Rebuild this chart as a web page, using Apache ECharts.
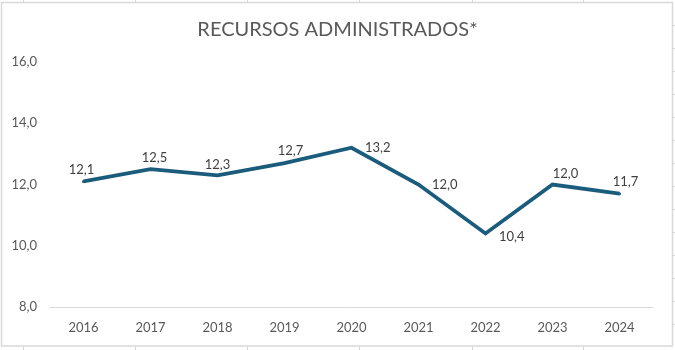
<!DOCTYPE html>
<html>
<head>
<meta charset="utf-8">
<script src="https://cdn.jsdelivr.net/npm/echarts@6/dist/echarts.min.js"></script>
<style>html,body{margin:0;padding:0;background:#fff}#c{width:675px;height:350px}</style>
</head>
<body>
<div id="c"></div>
<script>
const title = 'RECURSOS ADMINISTRADOS*';
const years = ['2016','2017','2018','2019','2020','2021','2022','2023','2024'];
const values = [12.1, 12.5, 12.3, 12.7, 13.2, 12.0, 10.4, 12.0, 11.7];
const yTicks = [8, 10, 12, 14, 16];

// label placement per point (style only)
const labelPos = ['top','top','top','top','right','right','right','top','top'];
const labelOff = [[-2,-1],[4,0],[0,0],[6,-1],[9,0],[9,0],[9,3],[13,0],[6,-1]];

const fmt = v => v.toFixed(1).replace('.', ',');

const chart = echarts.init(document.getElementById('c'), null, {renderer:'canvas'});

// decorative spreadsheet cell lines outside the chart frame
const deco = [];
[23,135,247,359,472,583].forEach(x => {
  deco.push({type:'line', shape:{x1:x+0.5,y1:0,x2:x+0.5,y2:2}, style:{stroke:'#d4d4d4',lineWidth:1}, silent:true});
  deco.push({type:'line', shape:{x1:x+0.5,y1:347,x2:x+0.5,y2:350}, style:{stroke:'#d4d4d4',lineWidth:1}, silent:true});
});
for (let y = 25; y < 346; y += 23) {
  deco.push({type:'line', shape:{x1:673,y1:y+0.5,x2:675,y2:y+0.5}, style:{stroke:'#d4d4d4',lineWidth:1}, silent:true});
}
deco.push({type:'rect', shape:{x:1.5,y:2.5,width:671,height:343.5}, style:{fill:null,stroke:'#d9d9d9',lineWidth:1.5}, silent:true, z:-1});

chart.setOption({
  animation:false,
  backgroundColor:'#fff',
  title:{
    text:title, left:'center', top:15,
    textStyle:{fontFamily:'Lato', fontWeight:'normal', fontSize:20, color:'#595959'}
  },
  grid:{left:50, right:22, top:62, bottom:43, containLabel:false},
  xAxis:{
    type:'category', data:years, boundaryGap:true,
    axisLine:{show:true, lineStyle:{color:'#d9d9d9', width:1}},
    axisTick:{show:false},
    axisLabel:{color:'#595959', fontFamily:'Lato', fontSize:13, margin:14}
  },
  yAxis:{
    type:'value', min:yTicks[0], max:yTicks[yTicks.length-1], interval:2,
    splitLine:{show:false},
    axisLine:{show:false}, axisTick:{show:false},
    axisLabel:{color:'#595959', fontFamily:'Lato', fontSize:13, margin:13, formatter:v => fmt(v)}
  },
  graphic: deco,
  series:[{
    type:'line',
    data: values.map((v,i) => ({
      value:v,
      label:{show:true, position:labelPos[i], offset:labelOff[i]}
    })),
    symbol:'circle',
    symbolSize:3,
    showSymbol:true,
    showAllSymbol:true,
    lineStyle:{color:'#1b5c7d', width:3.8, join:'miter'},
    itemStyle:{color:'#1b5c7d'},
    label:{show:true, formatter:p => fmt(p.value), color:'#404040', fontFamily:'Lato', fontSize:13, distance:3, opacity:1}
  }]
});
</script>
</body>
</html>
